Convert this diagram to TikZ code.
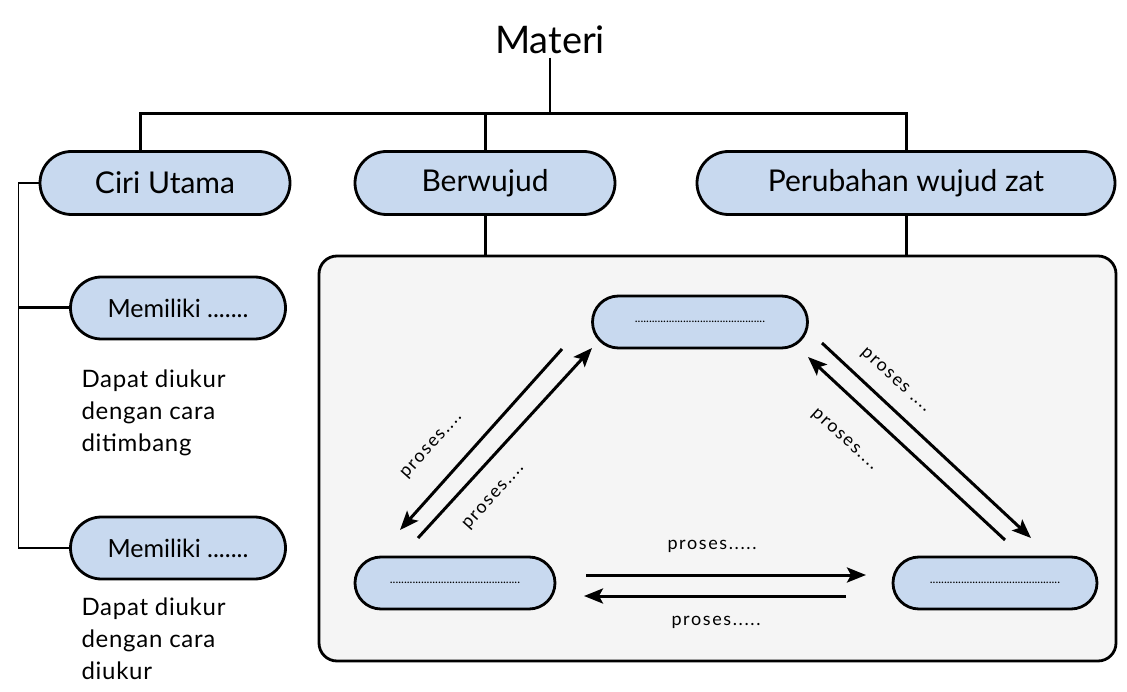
\documentclass[tikz,border=0pt]{standalone}
\usepackage{fontspec}
\setmainfont{Lato}
\newfontfamily\spacedfont{Lato}[LetterSpace=9]
\newfontfamily\notefont{Lato}[LetterSpace=3]
\usetikzlibrary{shapes,arrows,arrows.meta}
\definecolor{pillblue}{HTML}{C8D9EF}
\definecolor{panelgray}{HTML}{F5F5F5}
\tikzstyle{link} = [draw, line width=3pt]
\tikzstyle{thinlink} = [draw, line width=1.6pt]
\tikzset{arrowlink/.style={draw, line width=3pt, -{Stealth[length=19pt,width=15pt,inset=4pt]}}}
\tikzstyle{pill} = [rounded rectangle, draw=black, line width=2.8pt, fill=pillblue, inner sep=0pt]
\tikzstyle{toppill} = [pill, minimum height=63pt, font=\fontsize{30}{33}\selectfont]
\tikzstyle{dotpill} = [pill, minimum width=200pt, minimum height=52pt, font=\fontsize{12}{14}\selectfont]
\tikzstyle{proslabel} = [font=\spacedfont\fontsize{18}{20}\selectfont, inner sep=1pt]

\begin{document}
\begin{tikzpicture}[x=1pt,y=-1pt]
        \useasboundingbox (0,0) rectangle (1127,692);
        
        \node (materi) at (550,40) [font=\fontsize{38}{40}\selectfont] {Materi};
        \coordinate (J) at (550,115);
        
        \node (ciri) at (165,183) [toppill, minimum width=250pt] {Ciri Utama};
        \node (berw) at (485,183) [toppill, minimum width=260pt] {Berwujud};
        \node (perub) at (906,183) [toppill, minimum width=418pt] {Perubahan wujud zat};
        
        \draw[thinlink] (materi.south) -- (J);
        \draw[link] ([xshift=-25pt]ciri.north) -- ++(0,-37) -| (perub.north);
        \draw[link] (berw.north) -- (berw.north |- J);
        
        % panel perubahan wujud
        \node (panel) at (717.5,458.5) [draw=black, line width=2.8pt, rounded corners=18pt, fill=panelgray, minimum width=797pt, minimum height=405pt] {};
        \draw[link] (berw.south) -- (berw.south |- panel.north);
        \draw[link] (perub.south) -- (perub.south |- panel.north);
        
        \node (mem1) at (178,308) [pill, minimum width=215pt, minimum height=62pt, font=\fontsize{25}{27}\selectfont] {Memiliki .......};
        \node (mem2) at (178,548) [pill, minimum width=215pt, minimum height=62pt, font=\fontsize{25}{27}\selectfont] {Memiliki .......};
        
        \node (d1) at (78,366) [anchor=north west, align=left, font=\notefont\fontsize{24}{32}\selectfont] {Dapat diukur\\dengan cara\\ditimbang};
        \node (d2) at (78,594) [anchor=north west, align=left, font=\notefont\fontsize{24}{32}\selectfont] {Dapat diukur\\dengan cara\\diukur};
        
        \draw[thinlink] (ciri.west) -- ++(-20,0) |- (mem2.west);
        \draw[link] (mem1.west) -- ++(-50,0);
        
        % wujud zat
        \node (A) at (700,322) [dotpill, minimum width=215pt] {..............................................};
        \node (B) at (455,583) [dotpill] {..............................................};
        \node (C) at (995,583) [dotpill, minimum width=204pt] {..............................................};
        
        \coordinate (a1) at (562,349);
        \coordinate (a2) at (400,530);
        \coordinate (a3) at (418,538);
        \coordinate (a4) at (592,348);
        \draw[arrowlink] (a1) -- (a2);
        \draw[arrowlink] (a3) -- (a4);
        \node (p1) at (432,446) [proslabel, rotate=48] {proses....};
        \node (p2) at (494,497) [proslabel, rotate=48] {proses....};
        
        \coordinate (b1) at (822,343);
        \coordinate (b2) at (1031,538);
        \coordinate (b3) at (1005,540);
        \coordinate (b4) at (808,357);
        \draw[arrowlink] (b1) -- (b2);
        \draw[arrowlink] (b3) -- (b4);
        \node (p3) at (895,381) [proslabel, rotate=-42] {proses ....};
        \node (p4) at (844,440) [proslabel, rotate=-42] {proses....};
        
        \coordinate (c1) at (586,575);
        \coordinate (c2) at (866,575);
        \coordinate (c3) at (846,596);
        \coordinate (c4) at (584,596);
        \draw[arrowlink] (c1) -- (c2);
        \draw[arrowlink] (c3) -- (c4);
        \node (p5) at (712,546) [proslabel] {proses.....};
        \node (p6) at (716,622) [proslabel] {proses.....};
        
    \end{tikzpicture}
\end{document}
